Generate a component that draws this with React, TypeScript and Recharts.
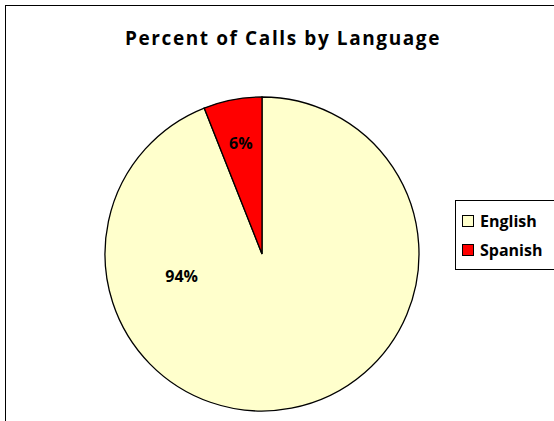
import { PieChart, Pie, Cell, Legend } from 'recharts';

const languages = ['English', 'Spanish'];
const percents = [94, 6];
const colors = ['#FFFFCC', '#FF0000'];

const data = languages.map((name, i) => ({ name, value: percents[i] }));

const RAD = Math.PI / 180;

// Excel had the big slice's label dragged to the left; mimic that spot
function renderLabel(props: any) {
  const { cx, cy, outerRadius, midAngle, payload } = props;
  let angle = midAngle;
  let ratio = 0.72;
  if (payload.name === 'English') {
    angle = 195;
    ratio = 0.53;
  }
  const x = cx + outerRadius * ratio * Math.cos(-angle * RAD);
  const y = cy + outerRadius * ratio * Math.sin(-angle * RAD);
  return (
    <text
      x={x}
      y={y}
      textAnchor="middle"
      dominantBaseline="central"
      fill="#000"
      fontSize={16}
      fontWeight="bold"
      fontFamily="'Open Sans', sans-serif"
    >
      {`${payload.value}%`}
    </text>
  );
}

function LegendBox({ payload }: any) {
  return (
    <div
      style={{
        border: '1px solid #000',
        background: '#fff',
        width: 94,
        padding: '5px 0 5px 6px',
        fontFamily: "'Open Sans', sans-serif",
        fontWeight: 'bold',
        fontSize: 16,
      }}
    >
      {(payload || []).map((entry: any) => (
        <div key={entry.value} style={{ display: 'flex', alignItems: 'center', height: 29 }}>
          <span
            style={{
              display: 'inline-block',
              width: 10,
              height: 10,
              border: '1px solid #000',
              background: entry.color,
              marginRight: 6,
            }}
          />
          <span>{entry.value}</span>
        </div>
      ))}
    </div>
  );
}

export default function App() {
  return (
    <div style={{ position: 'absolute', left: 0, top: 0, width: 554, height: 421, background: '#fff', overflow: 'hidden' }}>
      <div
        style={{
          position: 'absolute',
          left: 5,
          top: 5,
          width: 560,
          height: 430,
          border: '1px solid #000',
        }}
      />
      <div
        style={{
          position: 'absolute',
          top: 25,
          left: 0,
          width: 566,
          textAlign: 'center',
          fontFamily: "'Open Sans', sans-serif",
          fontWeight: 'bold',
          fontSize: 19,
          letterSpacing: 1.6,
        }}
      >
        Percent of Calls by Language
      </div>
      <PieChart
        width={554}
        height={421}
        margin={{ top: 0, right: 0, bottom: 0, left: 0 }}
        style={{ position: 'absolute', left: 0, top: 0 }}
      >
        <Pie
          data={data}
          dataKey="value"
          nameKey="name"
          cx={262}
          cy={254}
          outerRadius={157}
          startAngle={90}
          endAngle={-270}
          stroke="#000"
          strokeWidth={1.3}
          label={renderLabel}
          labelLine={false}
          isAnimationActive={false}
        >
          {data.map((d, i) => (
            <Cell key={d.name} fill={colors[i]} />
          ))}
        </Pie>
        <Legend
          layout="vertical"
          verticalAlign="middle"
          align="right"
          content={<LegendBox />}
          wrapperStyle={{ left: 455, top: 200, width: 100 }}
        />
      </PieChart>
    </div>
  );
}
